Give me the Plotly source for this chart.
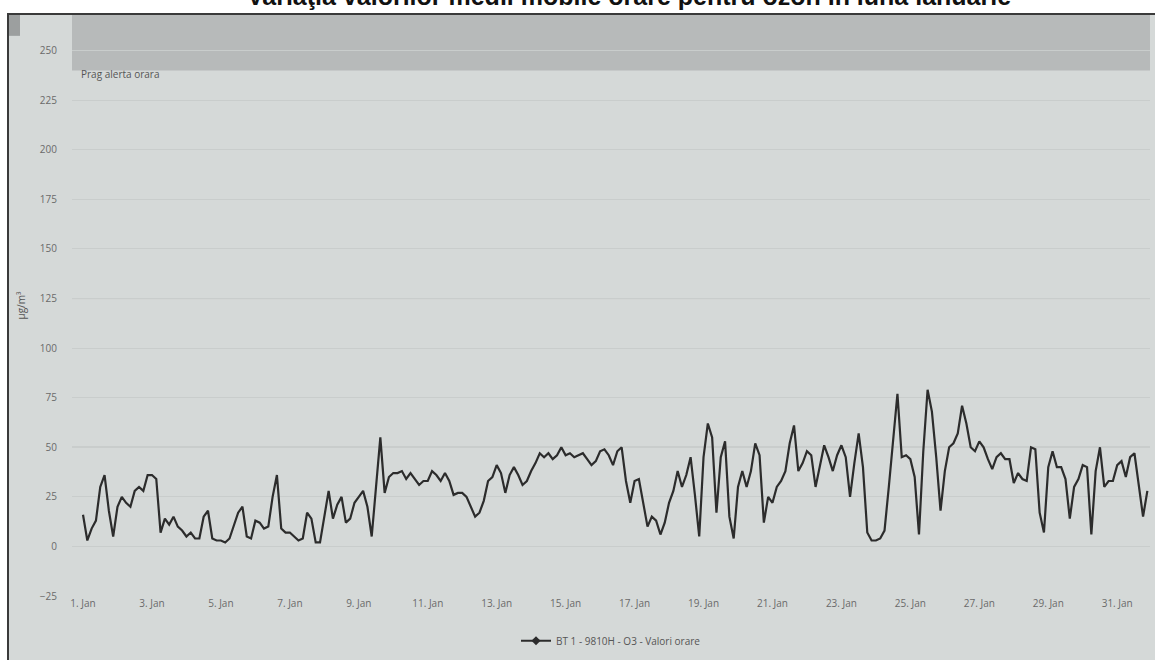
import pandas as pd
import plotly.graph_objects as go

# ---- data (3-hourly readings of the O3 hourly series, January) ----
o3_values = [
    16, 3, 9, 13, 30, 36, 18, 5,
    20, 25, 22, 20, 28, 30, 28, 36,
    36, 34, 7, 14, 11, 15, 10, 8,
    5, 7, 4, 4, 15, 18, 4, 3,
    3, 2, 4, 10, 17, 20, 5, 4,
    13, 12, 9, 10, 25, 36, 9, 7,
    7, 5, 3, 4, 17, 14, 2, 2,
    15, 28, 14, 21, 25, 12, 14, 22,
    25, 28, 20, 5, 30, 55, 27, 35,
    37, 37, 38, 34, 37, 34, 31, 33,
    33, 38, 36, 33, 37, 33, 26, 27,
    27, 25, 20, 15, 17, 23, 33, 35,
    41, 37, 27, 36, 40, 36, 31, 33,
    38, 42, 47, 45, 47, 44, 46, 50,
    46, 47, 45, 46, 47, 44, 41, 43,
    48, 49, 46, 41, 48, 50, 33, 22,
    33, 34, 22, 10, 15, 13, 6, 12,
    22, 28, 38, 30, 36, 45, 26, 5,
    45, 62, 55, 17, 45, 53, 15, 4,
    30, 38, 30, 38, 52, 46, 12, 25,
    22, 30, 33, 38, 52, 61, 38, 42,
    48, 46, 30, 40, 51, 45, 38, 46,
    51, 45, 25, 42, 57, 40, 7, 3,
    3, 4, 8, 30, 55, 77, 45, 46,
    44, 35, 6, 48, 79, 68, 45, 18,
    38, 50, 52, 57, 71, 62, 50, 48,
    53, 50, 44, 39, 45, 47, 44, 44,
    32, 37, 34, 33, 50, 49, 17, 7,
    40, 48, 40, 40, 34, 14, 30, 34,
    41, 40, 6, 38, 50, 30, 33, 33,
    41, 43, 35, 45, 47, 30, 15, 28,
]
start_time = "2016-01-01 00:00"
step = "3h"

tick_days = ["2016-01-%02d" % d for d in range(1, 32, 2)]
tick_labels = ["1. Jan", "3. Jan", "5. Jan", "7. Jan", "9. Jan", "11. Jan", "13. Jan",
               "15. Jan", "17. Jan", "19. Jan", "21. Jan", "23. Jan", "25. Jan",
               "27. Jan", "29. Jan", "31. Jan"]
y_ticks = [-25, 0, 25, 50, 75, 100, 125, 150, 175, 200, 225, 250]
alert_threshold = 240
emphasis_lines = [50, 125]
series_name = "BT 1 - 9810H - O3 - Valori orare"
band_label = "Prag alerta orara"
title_text = "Variaţia valorilor medii mobile orare pentru ozon în luna ianuarie"

times = pd.date_range(start_time, periods=len(o3_values), freq=step)

# ---- figure ----
W, H = 1155, 660
ML, MR, MT, MB = 72, 5, 15, 60
PW, PH = W - ML - MR, H - MT - MB
Y_TOP = 268


def px_x(p):
    return (p - ML) / PW


def px_y(p):
    return (H - MB - p) / PH


BG = "#d5d9d8"
BAND = "#b7baba"
FONT = "Open Sans"

fig = go.Figure()
fig.add_trace(go.Scatter(
    x=times, y=o3_values, mode="lines",
    line=dict(color="#2c2c2c", width=2.2),
    showlegend=False, name=series_name,
))
fig.add_trace(go.Scatter(
    x=[None], y=[None], mode="lines+markers", name=series_name,
    line=dict(color="#2c2c2c", width=2),
    marker=dict(symbol="diamond", size=7, color="#2c2c2c"),
))

shapes = [
    # scanned page box
    dict(type="rect", xref="paper", yref="paper", x0=px_x(8), x1=px_x(W + 20),
         y0=px_y(H + 20), y1=px_y(14), fillcolor=BG,
         line=dict(color="#3a3a3a", width=2), layer="below"),
    # alert band
    dict(type="rect", xref="paper", yref="y", x0=0, x1=1, y0=alert_threshold, y1=Y_TOP,
         fillcolor=BAND, line=dict(width=0), layer="below"),
    # small menu square top-left
    dict(type="rect", xref="paper", yref="paper", x0=px_x(9), x1=px_x(20),
         y0=px_y(36), y1=px_y(15), fillcolor="#9c9f9f", line=dict(width=0), layer="below"),
]
for v in emphasis_lines:
    shapes.append(dict(type="line", xref="paper", yref="y", x0=0, x1=1, y0=v, y1=v,
                       line=dict(color="#a3a7a6", width=1), layer="below"))

fig.update_layout(
    width=W, height=H,
    margin=dict(l=ML, r=MR, t=MT, b=MB),
    paper_bgcolor="white", plot_bgcolor=BG,
    font=dict(family=FONT, size=10, color="#666666"),
    shapes=shapes,
    showlegend=True,
    legend=dict(orientation="h", x=0.5, xanchor="center", y=px_y(645), yanchor="middle",
                font=dict(size=10, color="#555555"), bgcolor="rgba(0,0,0,0)"),
    annotations=[
        dict(text=band_label, xref="paper", yref="y", x=px_x(79), y=alert_threshold,
             xanchor="left", yanchor="top", yshift=6, showarrow=False,
             font=dict(family=FONT, size=10, color="#555555")),
        dict(text="<b>" + title_text + "</b>", xref="paper", yref="paper",
             x=px_x(629), y=px_y(12), xanchor="center", yanchor="bottom", showarrow=False,
             font=dict(family="Liberation Sans", size=25, color="#111111")),
    ],
    xaxis=dict(
        type="date",
        range=["2015-12-31 16:20", "2016-01-31 22:50"],
        tickvals=tick_days, ticktext=tick_labels,
        showgrid=False, showline=False, zeroline=False, ticks="",
        automargin=False,
        tickfont=dict(size=10, color="#6a6a6a"),
    ),
    yaxis=dict(
        range=[-25, Y_TOP],
        tickvals=y_ticks,
        showgrid=True, gridcolor="#c9cdcc", gridwidth=1,
        zeroline=False, showline=False, ticks="",
        automargin=False,
        ticklabelstandoff=14,
        tickfont=dict(size=10, color="#6a6a6a"),
        title=dict(text="µg/m³", standoff=12, font=dict(size=10, color="#555555")),
    ),
)

fig.write_html("out.html", config={"displayModeBar": False},
               post_script="document.body.style.margin='0';document.body.style.overflow='hidden';")
